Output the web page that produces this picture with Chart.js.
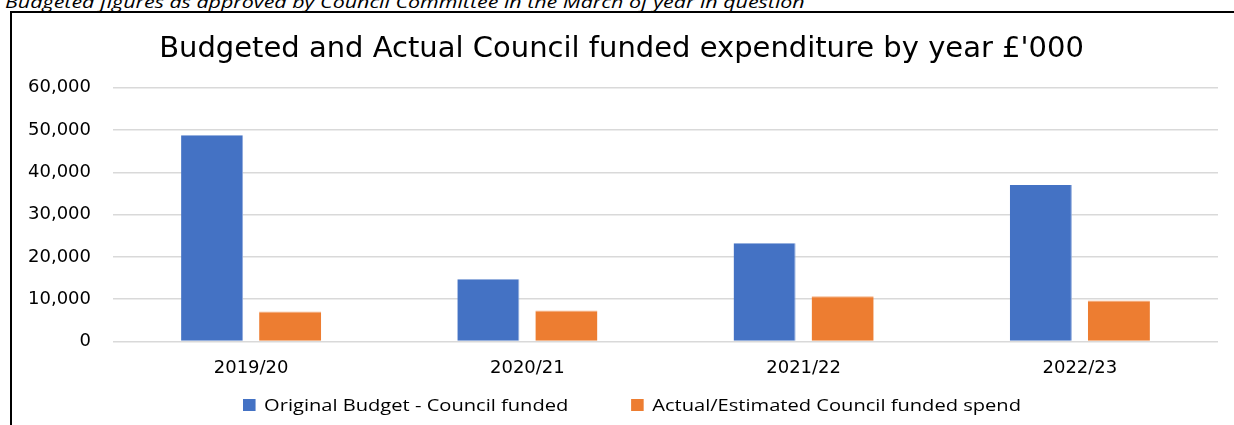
<!DOCTYPE html>
<html>
<head>
<meta charset="utf-8">
<script src="https://cdn.jsdelivr.net/npm/chart.js@4"></script>
<style>
    body { margin: 0; background: #fff; overflow: hidden; }
    #wrap { position: relative; width: 1234px; height: 425px; }
    #note {
        position: absolute; left: 5px; top: -10px;
        font-family: "Open Sans", sans-serif; font-style: italic; font-size: 17px;
        color: #000; white-space: nowrap;
        transform: scaleX(1.26); transform-origin: left top;
    }
    #frame {
        position: absolute; left: 10px; top: 11px; width: 1230px; height: 430px;
        border-left: 2px solid #000; border-top: 2px solid #000;
    }
    canvas { position: absolute; left: 0; top: 0; }
    #legend {
        position: absolute; left: 243px; top: 394px;
        display: flex; align-items: center;
        font-family: "Open Sans", sans-serif; font-size: 16px; color: #000;
        white-space: nowrap;
        transform: scaleX(1.256); transform-origin: left top;
    }
    #legend .item { display: flex; align-items: center; margin-right: 50px; }
    #legend .box { width: 9.6px; height: 12px; margin-right: 7.2px; }
</style>
</head>
<body>
<div id="wrap">
    <div id="note">Budgeted figures as approved by Council Committee in the March of year in question</div>
    <div id="frame"></div>
    <canvas id="expenditureChart" width="1234" height="425"></canvas>
    <div id="legend"></div>
</div>
<script>
// Podatki (v £'000)
const years = ['2019/20', '2020/21', '2021/22', '2022/23'];
const originalBudget = [48800, 14700, 23200, 37000];
const actualSpend = [7100, 7300, 10700, 9700];
const yTicks = [0, 10000, 20000, 30000, 40000, 50000, 60000];

const ctx = document.getElementById('expenditureChart').getContext('2d');

const chart = new Chart(ctx, {
    type: 'bar',
    data: {
        labels: years,
        datasets: [{
            label: 'Original Budget - Council funded',
            data: originalBudget,
            backgroundColor: '#4472C4',
            borderColor: '#8faadc',
            borderWidth: { right: 1 },
            borderSkipped: false,
            categoryPercentage: 0.565,
            barPercentage: 0.795
        },
        {
            label: 'Actual/Estimated Council funded spend',
            data: actualSpend,
            backgroundColor: '#ED7D31',
            borderColor: '#f4b183',
            borderWidth: { top: 1 },
            borderSkipped: false,
            categoryPercentage: 0.565,
            barPercentage: 0.795
        }]
    },
    options: {
        responsive: false,
        animation: false,
        layout: {
            padding: { left: 25, right: 16, top: 0, bottom: 38 }
        },
        plugins: {
            title: {
                display: true,
                text: "Budgeted and Actual Council funded expenditure by year £'000",
                color: '#000',
                font: { family: 'DejaVu Sans', size: 29, weight: 'normal' },
                padding: { top: 32, bottom: 21 }
            },
            legend: { display: false },
            tooltip: { enabled: false }
        },
        scales: {
            x: {
                grid: { display: false },
                border: { display: false },
                ticks: {
                    color: '#000',
                    font: { family: 'DejaVu Sans', size: 18 },
                    padding: 8
                }
            },
            y: {
                min: 0,
                max: 60000,
                afterFit: scale => { scale.width = 88; },
                afterBuildTicks: scale => { scale.ticks = yTicks.map(v => ({ value: v })); },
                grid: { color: '#d9d9d9', lineWidth: 1.5, drawTicks: false },
                border: { display: false },
                ticks: {
                    color: '#000',
                    font: { family: 'DejaVu Sans', size: 18 },
                    padding: 22,
                    callback: v => v.toLocaleString('en-GB')
                }
            }
        }
    }
});

// Legenda pod grafom (iz podatkov grafa)
const legendEl = document.getElementById('legend');
chart.data.datasets.forEach(ds => {
    const item = document.createElement('div');
    item.className = 'item';
    const box = document.createElement('span');
    box.className = 'box';
    box.style.background = ds.backgroundColor;
    const text = document.createElement('span');
    text.textContent = ds.label;
    item.appendChild(box);
    item.appendChild(text);
    legendEl.appendChild(item);
});
</script>
</body>
</html>
